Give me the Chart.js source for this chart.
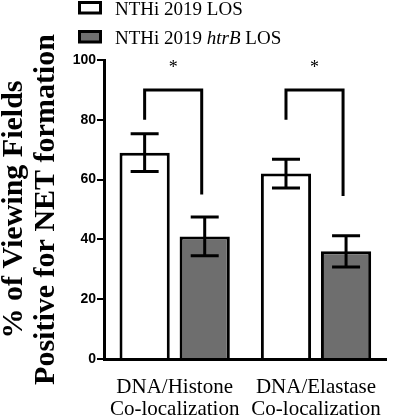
<!DOCTYPE html>
<html>
<head>
<meta charset="utf-8">
<script src="https://cdn.jsdelivr.net/npm/chart.js@4"></script>
<style>
  body { margin: 0; background: #fff; }
  #wrap { width: 400px; height: 416px; }
</style>
</head>
<body>
<div id="wrap"><canvas id="chart" width="400" height="416"></canvas></div>
<script>
const categories = [["DNA/Histone", "Co-localization"], ["DNA/Elastase", "Co-localization"]];
const seriesNames = ["NTHi 2019 LOS", "NTHi 2019 htrB LOS"];
const italicParts = ["", "htrB"];
const losValues = [69, 62];
const losErrors = [6.3, 4.8];
const htrbValues = [41, 36];
const htrbErrors = [6.5, 5.2];
const yTicks = [0, 20, 40, 60, 80, 100];
// significance brackets (value units): left leg start, top, right leg end
const bracketStart = [80, 80];
const bracketTop = [90, 90];
const bracketEnd = [55, 54.5];
const sigMarks = ["*", "*"];
const sigLevel = [95.5, 95.5];

const serif = '"Liberation Serif", "Times New Roman", serif';
const sans = '"Liberation Sans", Arial, sans-serif';

// error bars, brackets and the legend (legend needs an italic word)
const extras = {
  id: "extras",
  afterDatasetsDraw(chart) {
    const { ctx } = chart;
    const y = chart.scales.y;
    ctx.save();
    ctx.strokeStyle = "#000";
    ctx.lineWidth = 3;
    chart.data.datasets.forEach((ds, di) => {
      chart.getDatasetMeta(di).data.forEach((bar, i) => {
        const hi = y.getPixelForValue(ds.data[i] + ds.errors[i]);
        const lo = y.getPixelForValue(ds.data[i] - ds.errors[i]);
        ctx.beginPath();
        ctx.moveTo(bar.x, hi);
        ctx.lineTo(bar.x, lo);
        ctx.moveTo(bar.x - 14, hi);
        ctx.lineTo(bar.x + 14, hi);
        ctx.moveTo(bar.x - 14, lo);
        ctx.lineTo(bar.x + 14, lo);
        ctx.stroke();
      });
    });

    const a = chart.getDatasetMeta(0).data;
    const b = chart.getDatasetMeta(1).data;
    a.forEach((barA, i) => {
      const barB = b[i];
      ctx.beginPath();
      ctx.lineJoin = "miter";
      ctx.moveTo(barA.x, y.getPixelForValue(bracketStart[i]));
      ctx.lineTo(barA.x, y.getPixelForValue(bracketTop[i]));
      ctx.lineTo(barB.x - 3, y.getPixelForValue(bracketTop[i]));
      ctx.lineTo(barB.x - 3, y.getPixelForValue(bracketEnd[i]));
      ctx.stroke();
      ctx.fillStyle = "#000";
      ctx.font = "18px " + serif;
      ctx.textAlign = "center";
      ctx.textBaseline = "alphabetic";
      ctx.fillText(sigMarks[i], (barA.x + barB.x - 3) / 2, y.getPixelForValue(sigLevel[i]));
    });
    ctx.restore();
  },
  afterDraw(chart) {
    const { ctx } = chart;
    ctx.save();
    chart.data.datasets.forEach((ds, i) => {
      const top = 1 + i * 29;
      ctx.fillStyle = ds.backgroundColor;
      ctx.fillRect(79.5, top + 1.5, 21, 10.5);
      ctx.strokeStyle = "#000";
      ctx.lineWidth = 3;
      ctx.strokeRect(79.5, top + 1.5, 21, 10.5);

      ctx.fillStyle = "#000";
      ctx.textBaseline = "alphabetic";
      ctx.textAlign = "left";
      const base = top + 13.5;
      let x = 115;
      const it = italicParts[i];
      const parts = it ? ds.label.split(it) : [ds.label];
      parts.forEach((p, k) => {
        ctx.font = "19px " + serif;
        ctx.fillText(p, x, base);
        x += ctx.measureText(p).width;
        if (it && k < parts.length - 1) {
          ctx.font = "italic 19px " + serif;
          ctx.fillText(it, x, base);
          x += ctx.measureText(it).width;
        }
      });
    });
    ctx.restore();
  }
};

new Chart(document.getElementById("chart"), {
  type: "bar",
  data: {
    labels: categories,
    datasets: [
      {
        label: seriesNames[0],
        data: losValues,
        errors: losErrors,
        backgroundColor: "#ffffff",
        borderColor: "#000",
        borderWidth: 3
      },
      {
        label: seriesNames[1],
        data: htrbValues,
        errors: htrbErrors,
        backgroundColor: "#6e6e6e",
        borderColor: "#000",
        borderWidth: 3
      }
    ]
  },
  options: {
    responsive: false,
    animation: false,
    categoryPercentage: 0.85,
    barPercentage: 0.836,
    layout: { padding: { top: 60, right: 9, left: 0, bottom: 0 } },
    plugins: {
      legend: { display: false },
      tooltip: { enabled: false }
    },
    scales: {
      x: {
        afterFit: (s) => { s.height = 57; },
        grid: { display: false, drawTicks: false },
        border: { display: true, color: "#000", width: 3 },
        ticks: {
          color: "#000",
          padding: 17,
          font: { family: serif, size: 21, lineHeight: 1.05 }
        }
      },
      y: {
        min: 0,
        max: 100,
        afterFit: (s) => { s.width = 104; },
        afterBuildTicks: (s) => { s.ticks = yTicks.map((v) => ({ value: v })); },
        grid: { drawOnChartArea: false, drawTicks: true, tickLength: 7, color: "#000", lineWidth: 2 },
        border: { display: true, color: "#000", width: 3 },
        ticks: {
          color: "#000",
          padding: 1,
          font: { family: sans, size: 14, weight: "bold" }
        },
        title: {
          display: true,
          text: ["% of Viewing Fields", "Positive for NET formation"],
          color: "#000",
          padding: { top: -2, bottom: 0 },
          font: { family: serif, size: 30, weight: "bold", lineHeight: 32 / 30 }
        }
      }
    }
  },
  plugins: [extras]
});
</script>
</body>
</html>
